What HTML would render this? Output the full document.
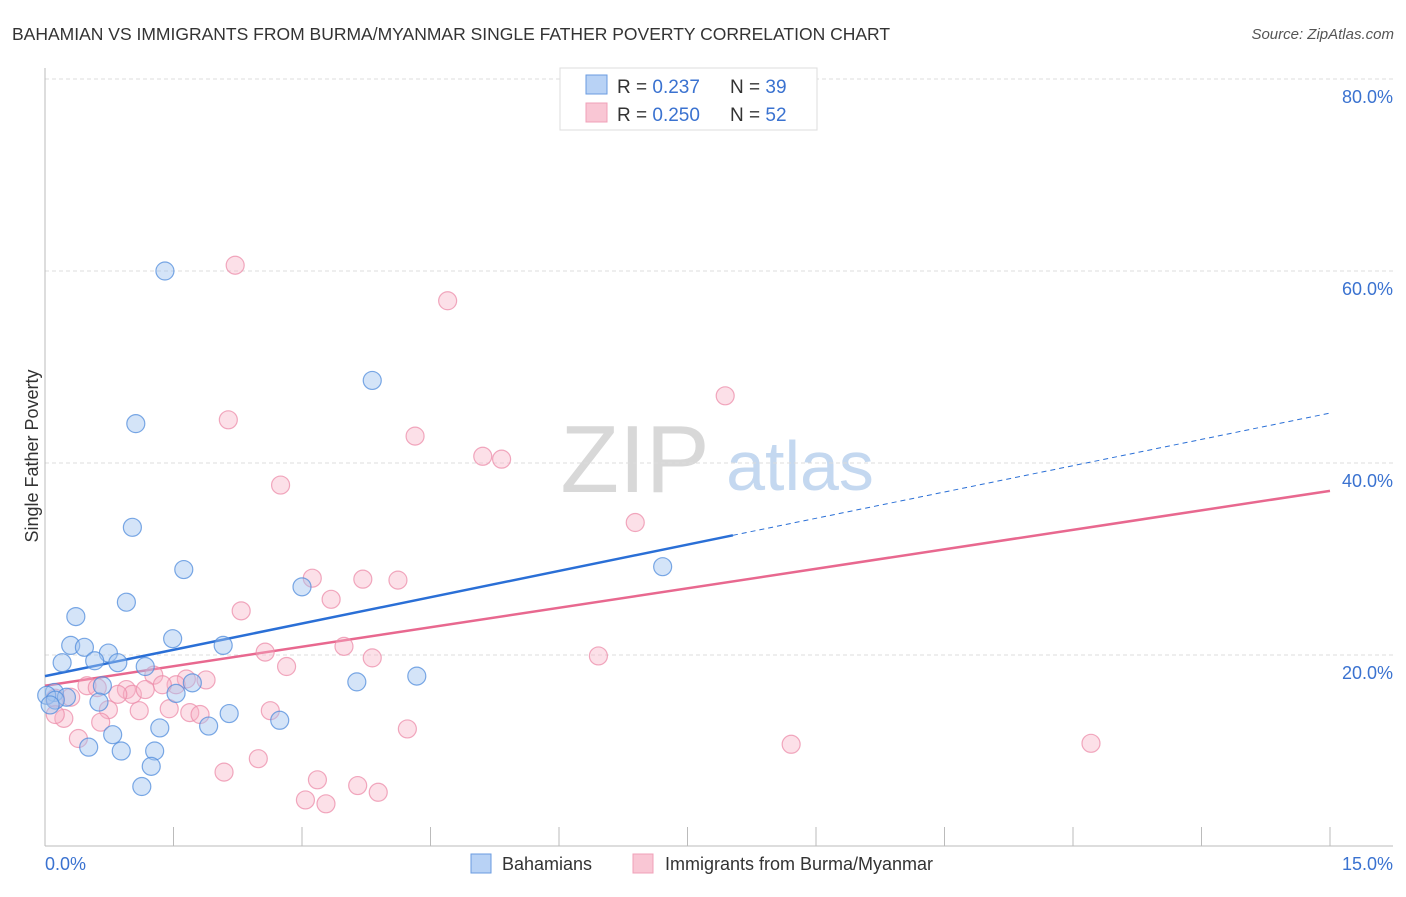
<!DOCTYPE html>
<html><head><meta charset="utf-8"><style>
body{margin:0;background:#fff;font-family:"Liberation Sans",sans-serif}
svg text{font-family:"Liberation Sans",sans-serif}
</style></head><body>
<svg id="c" width="1406" height="892" xmlns="http://www.w3.org/2000/svg">
<text x="12" y="40" font-size="17.5" fill="#333">BAHAMIAN VS IMMIGRANTS FROM BURMA/MYANMAR SINGLE FATHER POVERTY CORRELATION CHART</text>
<text x="1394" y="39" font-size="15" font-style="italic" fill="#555" text-anchor="end">Source: ZipAtlas.com</text>
<text x="38" y="456" font-size="18" fill="#333" text-anchor="middle" transform="rotate(-90 38 456)">Single Father Poverty</text>
<g>
<text x="635" y="492" font-size="96" font-family="Liberation Serif" fill="#d8d8d8" text-anchor="middle">ZIP</text>
<text x="800" y="490" font-size="70" fill="#c4d8f0" text-anchor="middle">atlas</text>
</g>
<g id="grid"></g><g id="axes"></g><g id="trend"></g><g id="pts"></g>
<g>
<rect x="560" y="68" width="257" height="62" fill="#fff" stroke="#ddd"/>
<rect x="586" y="75" width="21" height="19" fill="#b8d2f5" stroke="#6a9be0"/>
<text x="617" y="93" font-size="19" fill="#333">R = <tspan fill="#3a72d0">0.237</tspan><tspan x="730">N = </tspan><tspan fill="#3a72d0">39</tspan></text>
<rect x="586" y="103" width="21" height="19" fill="#f9c6d4" stroke="#f0a0b8"/>
<text x="617" y="121" font-size="19" fill="#333">R = <tspan fill="#3a72d0">0.250</tspan><tspan x="730">N = </tspan><tspan fill="#3a72d0">52</tspan></text>
</g>
<g>
<rect x="471" y="854" width="20" height="19" fill="#b8d2f5" stroke="#6a9be0"/>
<text x="502" y="870" font-size="18" fill="#333">Bahamians</text>
<rect x="633" y="854" width="20" height="19" fill="#f9c6d4" stroke="#f0a0b8"/>
<text x="665" y="870" font-size="18" fill="#333">Immigrants from Burma/Myanmar</text>
</g>
</svg>
<script>
const xTicks=[0,1.5,3,4.5,6,7.5,9,10.5,12,13.5,15];
const yTicks=[20,40,60,80];
const yTickLabels=["20.0%","40.0%","60.0%","80.0%"];
const xEndLabels=["0.0%","15.0%"];
const blueX=[1.40,3.82,1.06,1.02,1.62,0.95,0.36,3.00,7.21,1.49,0.30,0.46,0.74,2.08,0.20,0.58,0.85,1.17,1.72,3.64,4.34,0.67,1.53,0.11,0.02,0.25,0.63,2.15,2.74,1.91,1.34,0.79,0.51,0.89,1.28,1.24,1.13,0.12,0.06];
const blueY=[60.0,48.6,44.1,33.3,28.9,25.5,24.0,27.1,29.2,21.7,21.0,20.8,20.2,21.0,19.2,19.4,19.2,18.8,17.1,17.2,17.8,16.8,16.0,16.1,15.8,15.6,15.1,13.9,13.2,12.6,12.4,11.7,10.4,10.0,10.0,8.4,6.3,15.3,14.8];
const pinkX=[2.22,4.70,7.94,2.14,4.32,5.11,5.33,2.75,6.89,3.12,3.71,4.12,3.34,2.29,3.49,2.57,3.82,6.46,2.82,1.27,1.65,1.88,1.53,1.37,0.49,0.61,0.95,1.02,1.17,0.85,0.30,0.12,0.74,1.10,1.45,1.69,1.81,0.65,2.63,4.23,0.39,0.22,0.12,2.09,2.49,3.18,3.04,3.28,3.65,3.89,8.71,12.21];
const pinkY=[60.6,56.9,47.0,44.5,42.8,40.7,40.4,37.7,33.8,28.0,27.9,27.8,25.8,24.6,20.9,20.3,19.7,19.9,18.8,17.9,17.5,17.4,16.9,16.9,16.8,16.6,16.4,15.9,16.4,15.9,15.6,15.5,14.3,14.2,14.4,14.0,13.8,13.0,14.2,12.3,11.3,13.4,13.8,7.8,9.2,7.0,4.9,4.5,6.4,5.7,10.7,10.8];
const blueTrend=[17.8,45.2]; const blueSolidEnd=8.03;
const pinkTrend=[16.8,37.1];
const NS="http://www.w3.org/2000/svg";
const X=v=>45+v/15*1285, Y=v=>847-v*9.6;
function mk(p,t,a){const e=document.createElementNS(NS,t);for(const k in a)e.setAttribute(k,a[k]);document.getElementById(p).appendChild(e);return e;}
yTicks.forEach((v,i)=>{
 const g=mk('grid','line',{x1:45,x2:1393,y1:Y(v),y2:Y(v),stroke:'#ddd','stroke-dasharray':'4 3'});
 
 
 const t=mk('axes','text',{x:1393,y:Y(v)+24,'font-size':18,fill:'#3a72d0','text-anchor':'end'});
 t.textContent=yTickLabels[i];
 
 
});
let a=mk('axes','line',{x1:45,x2:45,y1:68,y2:846,stroke:'#bbb'});


a=mk('axes','line',{x1:45,x2:1393,y1:846,y2:846,stroke:'#bbb'});


xTicks.forEach(v=>{const t=mk('axes','line',{x1:X(v),x2:X(v),y1:827,y2:846,stroke:'#bbb'});
 
 });
let l=mk('axes','text',{x:45,y:870,'font-size':18,fill:'#3a72d0'});l.textContent=xEndLabels[0];


l=mk('axes','text',{x:1393,y:870,'font-size':18,fill:'#3a72d0','text-anchor':'end'});l.textContent=xEndLabels[1];


const bAt=x=>blueTrend[0]+(blueTrend[1]-blueTrend[0])*x/15;
function dot(xs,ys,fill,stroke,name){xs.forEach((x,i)=>{const c=mk('pts','circle',{cx:X(x),cy:Y(ys[i]),r:9,fill:fill,stroke:stroke,'stroke-width':1.2});
 
 });}
dot(pinkX,pinkY,'rgba(248,178,198,0.4)','rgba(236,140,170,0.75)','burma-point');
dot(blueX,blueY,'rgba(160,196,240,0.45)','rgba(80,140,220,0.75)','bahamian-point');
let t=mk('trend','line',{x1:X(0),y1:Y(bAt(0)),x2:X(blueSolidEnd),y2:Y(bAt(blueSolidEnd)),stroke:'#2a6fd6','stroke-width':2.5});


t=mk('trend','line',{x1:X(blueSolidEnd),y1:Y(bAt(blueSolidEnd)),x2:X(15),y2:Y(bAt(15)),stroke:'#2a6fd6','stroke-width':1,'stroke-dasharray':'5 4'});


t=mk('trend','line',{x1:X(0),y1:Y(pinkTrend[0]),x2:X(15),y2:Y(pinkTrend[1]),stroke:'#e8688f','stroke-width':2.5});


</script>
</body></html>
